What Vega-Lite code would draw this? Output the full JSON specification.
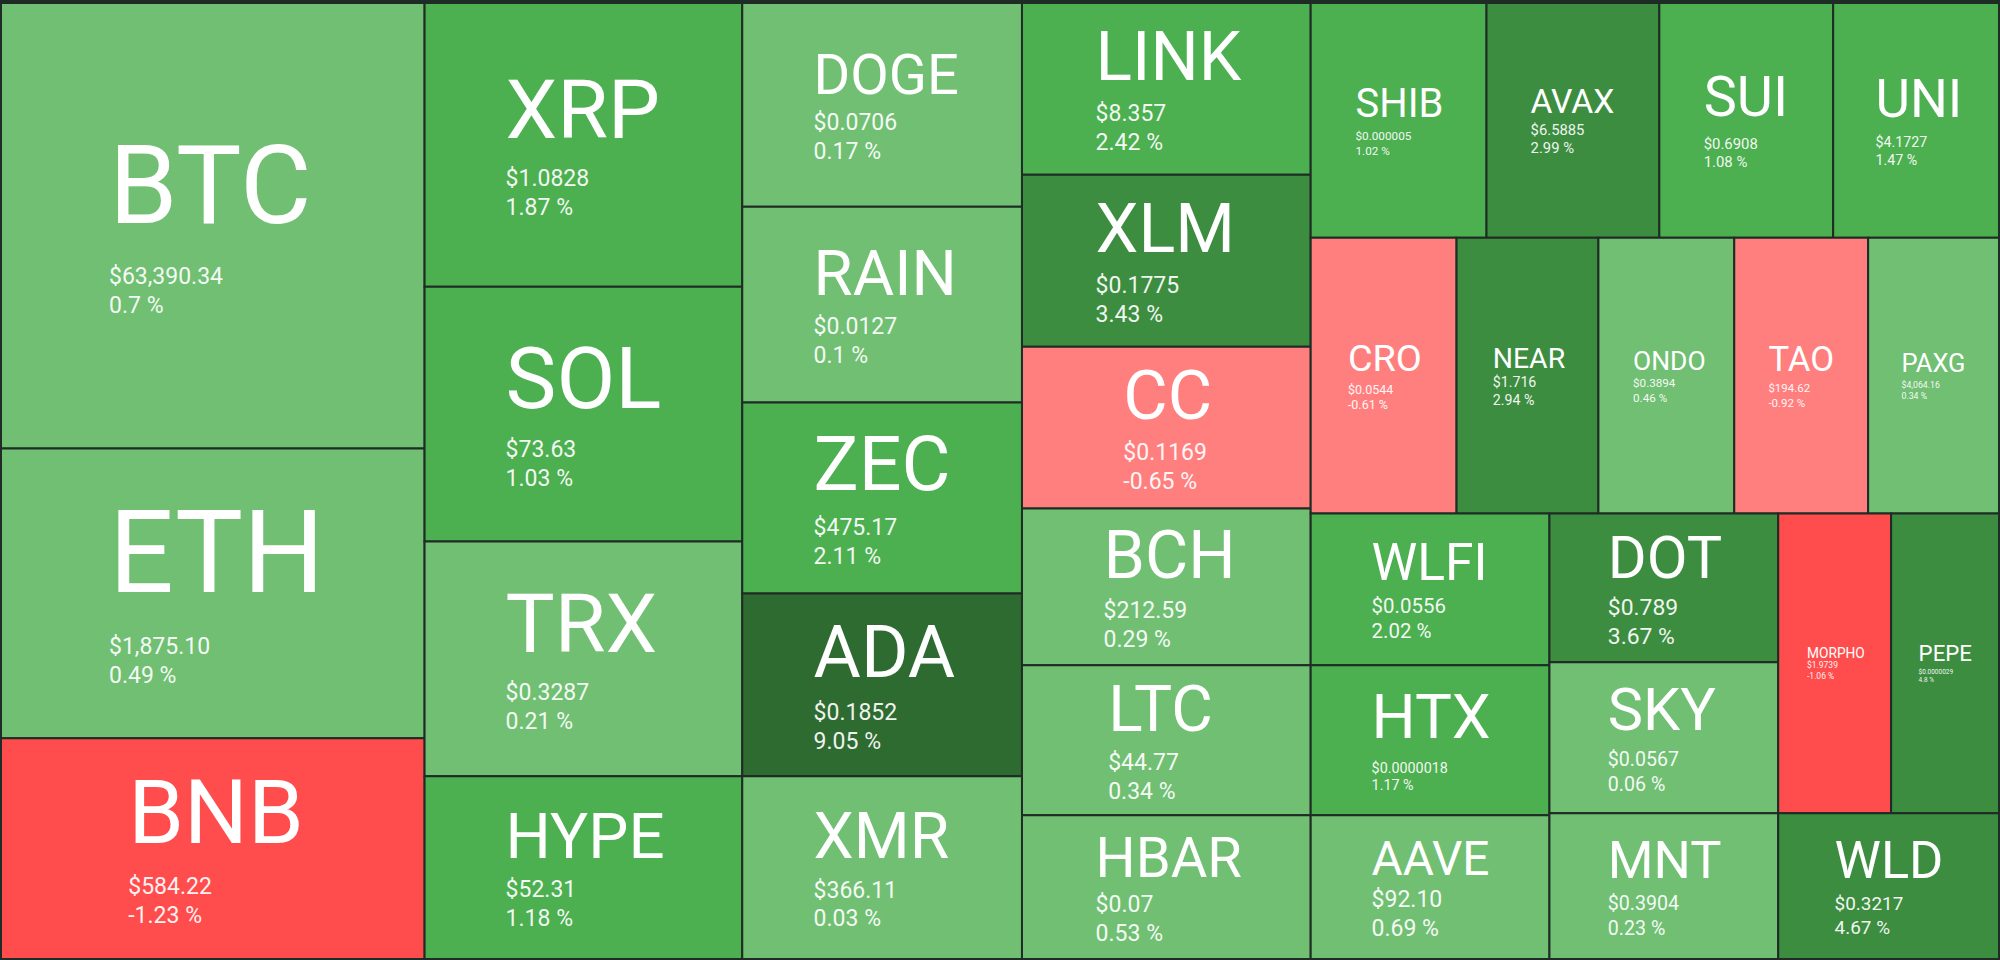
{
  "$schema": "https://vega.github.io/schema/vega-lite/v6.json",
  "width": 2000,
  "height": 960,
  "autosize": {"type": "fit", "contains": "padding"},
  "padding": 0,
  "background": "#1f2b25",
  "config": {"view": {"stroke": null}},
  "data": {
    "values": [
      {"sym": "BTC", "price": "$63,390.34", "chg": 0.7, "x0": 0, "x1": 424, "y0": 3, "y1": 449},
      {"sym": "ETH", "price": "$1,875.10", "chg": 0.49, "x0": 0, "x1": 424, "y0": 449, "y1": 739},
      {"sym": "BNB", "price": "$584.22", "chg": -1.23, "x0": 0, "x1": 424, "y0": 739, "y1": 960},
      {"sym": "XRP", "price": "$1.0828", "chg": 1.87, "x0": 424, "x1": 742, "y0": 3, "y1": 287},
      {"sym": "SOL", "price": "$73.63", "chg": 1.03, "x0": 424, "x1": 742, "y0": 287, "y1": 542},
      {"sym": "TRX", "price": "$0.3287", "chg": 0.21, "x0": 424, "x1": 742, "y0": 542, "y1": 777},
      {"sym": "HYPE", "price": "$52.31", "chg": 1.18, "x0": 424, "x1": 742, "y0": 777, "y1": 960},
      {"sym": "DOGE", "price": "$0.0706", "chg": 0.17, "x0": 742, "x1": 1022, "y0": 3, "y1": 207},
      {"sym": "RAIN", "price": "$0.0127", "chg": 0.1, "x0": 742, "x1": 1022, "y0": 207, "y1": 403},
      {"sym": "ZEC", "price": "$475.17", "chg": 2.11, "x0": 742, "x1": 1022, "y0": 403, "y1": 594},
      {"sym": "ADA", "price": "$0.1852", "chg": 9.05, "x0": 742, "x1": 1022, "y0": 594, "y1": 777},
      {"sym": "XMR", "price": "$366.11", "chg": 0.03, "x0": 742, "x1": 1022, "y0": 777, "y1": 960},
      {"sym": "LINK", "price": "$8.357", "chg": 2.42, "x0": 1022, "x1": 1311, "y0": 3, "y1": 175},
      {"sym": "XLM", "price": "$0.1775", "chg": 3.43, "x0": 1022, "x1": 1311, "y0": 175, "y1": 347},
      {"sym": "CC", "price": "$0.1169", "chg": -0.65, "x0": 1022, "x1": 1311, "y0": 347, "y1": 509},
      {"sym": "BCH", "price": "$212.59", "chg": 0.29, "x0": 1022, "x1": 1311, "y0": 509, "y1": 666},
      {"sym": "LTC", "price": "$44.77", "chg": 0.34, "x0": 1022, "x1": 1311, "y0": 666, "y1": 816},
      {"sym": "HBAR", "price": "$0.07", "chg": 0.53, "x0": 1022, "x1": 1311, "y0": 816, "y1": 960},
      {"sym": "SHIB", "price": "$0.000005", "chg": 1.02, "x0": 1311, "x1": 1487, "y0": 3, "y1": 238},
      {"sym": "AVAX", "price": "$6.5885", "chg": 2.99, "x0": 1487, "x1": 1660, "y0": 3, "y1": 238},
      {"sym": "SUI", "price": "$0.6908", "chg": 1.08, "x0": 1660, "x1": 1834, "y0": 3, "y1": 238},
      {"sym": "UNI", "price": "$4.1727", "chg": 1.47, "x0": 1834, "x1": 2000, "y0": 3, "y1": 238},
      {"sym": "CRO", "price": "$0.0544", "chg": -0.61, "x0": 1311, "x1": 1457, "y0": 238, "y1": 514},
      {"sym": "NEAR", "price": "$1.716", "chg": 2.94, "x0": 1457, "x1": 1599, "y0": 238, "y1": 514},
      {"sym": "ONDO", "price": "$0.3894", "chg": 0.46, "x0": 1599, "x1": 1735, "y0": 238, "y1": 514},
      {"sym": "TAO", "price": "$194.62", "chg": -0.92, "x0": 1735, "x1": 1869, "y0": 238, "y1": 514},
      {"sym": "PAXG", "price": "$4,064.16", "chg": 0.34, "x0": 1869, "x1": 2000, "y0": 238, "y1": 514},
      {"sym": "WLFI", "price": "$0.0556", "chg": 2.02, "x0": 1311, "x1": 1550, "y0": 514, "y1": 666},
      {"sym": "HTX", "price": "$0.0000018", "chg": 1.17, "x0": 1311, "x1": 1550, "y0": 666, "y1": 816},
      {"sym": "AAVE", "price": "$92.10", "chg": 0.69, "x0": 1311, "x1": 1550, "y0": 816, "y1": 960},
      {"sym": "DOT", "price": "$0.789", "chg": 3.67, "x0": 1550, "x1": 1779, "y0": 514, "y1": 663},
      {"sym": "SKY", "price": "$0.0567", "chg": 0.06, "x0": 1550, "x1": 1779, "y0": 663, "y1": 814},
      {"sym": "MNT", "price": "$0.3904", "chg": 0.23, "x0": 1550, "x1": 1779, "y0": 814, "y1": 960},
      {"sym": "MORPHO", "price": "$1.9739", "chg": -1.06, "x0": 1779, "x1": 1892, "y0": 514, "y1": 814},
      {"sym": "PEPE", "price": "$0.0000029", "chg": 4.8, "x0": 1892, "x1": 2000, "y0": 514, "y1": 814},
      {"sym": "WLD", "price": "$0.3217", "chg": 4.67, "x0": 1779, "x1": 2000, "y0": 814, "y1": 960}
    ]
  },
  "transform": [
    {"calculate": "datum.x1 - datum.x0", "as": "w"},
    {"calculate": "datum.y1 - datum.y0", "as": "h"},
    {"calculate": "length(datum.sym)", "as": "n"},
    {"calculate": "0.63*datum.n - 0.36*(datum.n - length(replace(datum.sym, regexp('I','g'), ''))) + 0.25*(datum.n - length(replace(datum.sym, regexp('[MW]','g'), ''))) - 0.07*(datum.n - length(replace(datum.sym, regexp('[LEF]','g'), '')))", "as": "em"},
    {"calculate": "min(0.49*datum.w/datum.em, 0.36*datum.h + 10)", "as": "S"},
    {"calculate": "min(23, 0.62*datum.S, 0.6*datum.w/length(datum.price))", "as": "P"},
    {"calculate": "0.47*datum.S + 0.4*datum.P", "as": "gap"},
    {"calculate": "(datum.y0 + datum.y1)/2 + 0.03*datum.S - (0.711*datum.S + datum.gap + 1.25*datum.P)/2 + 0.711*datum.S", "as": "ys"},
    {"calculate": "datum.ys + datum.gap", "as": "yp"},
    {"calculate": "datum.yp + 1.25*datum.P", "as": "yc"},
    {"calculate": "(datum.x0 + datum.x1)/2 - datum.S*datum.em/2", "as": "xl"},
    {"calculate": "datum.chg + ' %'", "as": "chgLabel"}
  ],
  "layer": [
    {
      "mark": {"type": "rect", "stroke": "#1f2b25", "strokeWidth": 2},
      "encoding": {
        "x": {"field": "x0", "type": "quantitative", "scale": {"domain": [0, 2000], "nice": false, "zero": false}, "axis": null},
        "x2": {"field": "x1"},
        "y": {"field": "y0", "type": "quantitative", "scale": {"domain": [0, 960], "nice": false, "zero": false, "reverse": true}, "axis": null},
        "y2": {"field": "y1"},
        "color": {
          "field": "chg", "type": "quantitative", "legend": null,
          "scale": {"type": "threshold", "domain": [-1, 0, 1, 2.5, 5], "range": ["#ff4c4c", "#ff7f7f", "#70bf73", "#4caf50", "#3c8d3f", "#2e6b31"]}
        }
      }
    },
    {
      "mark": {"type": "text", "align": "left", "baseline": "alphabetic", "font": "Roboto", "color": "#ffffff"},
      "encoding": {
        "x": {"field": "xl", "type": "quantitative", "axis": null},
        "y": {"field": "ys", "type": "quantitative", "axis": null},
        "size": {"field": "S", "type": "quantitative", "scale": null, "legend": null},
        "text": {"field": "sym"}
      }
    },
    {
      "mark": {"type": "text", "align": "left", "baseline": "alphabetic", "font": "Roboto", "color": "#ffffff", "opacity": 0.92},
      "encoding": {
        "x": {"field": "xl", "type": "quantitative", "axis": null},
        "y": {"field": "yp", "type": "quantitative", "axis": null},
        "size": {"field": "P", "type": "quantitative", "scale": null, "legend": null},
        "text": {"field": "price"}
      }
    },
    {
      "mark": {"type": "text", "align": "left", "baseline": "alphabetic", "font": "Roboto", "color": "#ffffff", "opacity": 0.92},
      "encoding": {
        "x": {"field": "xl", "type": "quantitative", "axis": null},
        "y": {"field": "yc", "type": "quantitative", "axis": null},
        "size": {"field": "P", "type": "quantitative", "scale": null, "legend": null},
        "text": {"field": "chgLabel"}
      }
    }
  ]
}
